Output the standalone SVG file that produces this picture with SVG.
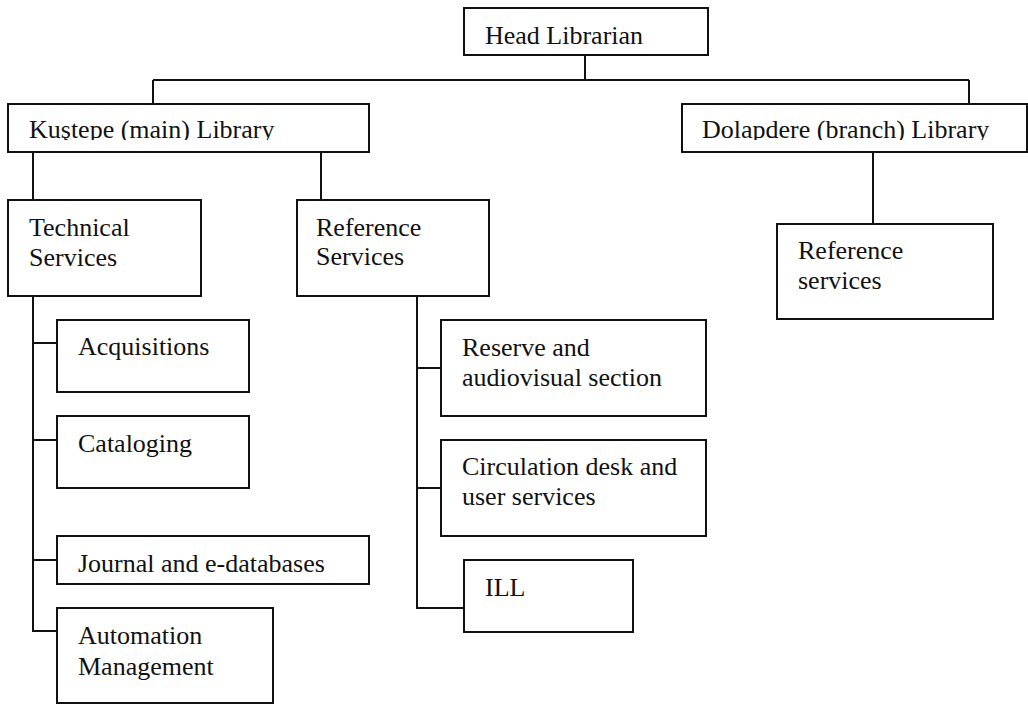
<svg xmlns="http://www.w3.org/2000/svg" width="1028" height="704" viewBox="0 0 1028 704">
<style>
.box{fill:#fff;stroke:#111;stroke-width:2}
.t{font-family:"Liberation Serif","Times New Roman",serif;font-size:26px;fill:#111}
.c{fill:none;stroke:#111;stroke-width:2}
</style>
<defs>
<clipPath id="clipK"><rect x="8" y="104" width="361" height="36"/></clipPath>
<clipPath id="clipD"><rect x="682" y="104" width="346" height="36"/></clipPath>
</defs>
<rect width="1028" height="704" fill="#fff"/>
<g id="connectors">
<path class="c" d="M585 55V80M153 80H969M153 80V104M969 80V104"/>
<path class="c" d="M33 152V200M321 152V200M873 152V224"/>
<path class="c" d="M33 296V631H57M33 343H57M33 440H57M33 560H57"/>
<path class="c" d="M417 296V608H464M417 368H441M417 488H441"/>
</g>
<g id="head"><rect class="box" x="464" y="8" width="244" height="47"/><text class="t" x="485" y="44">Head Librarian</text></g>
<g id="kustepe"><rect class="box" x="8" y="104" width="361" height="48"/><text class="t" x="29" y="138" clip-path="url(#clipK)">Kuştepe (main) Library</text></g>
<g id="dolapdere"><rect class="box" x="682" y="104" width="345" height="48"/><text class="t" x="702" y="138" clip-path="url(#clipD)">Dolapdere (branch) Library</text></g>
<g id="technical"><rect class="box" x="8" y="200" width="193" height="96"/><text class="t" x="29" y="236">Technical</text><text class="t" x="29" y="266">Services</text></g>
<g id="reference"><rect class="box" x="297" y="200" width="192" height="96"/><text class="t" x="316" y="236">Reference</text><text class="t" x="316" y="265">Services</text></g>
<g id="branch-reference"><rect class="box" x="777" y="224" width="216" height="95"/><text class="t" x="798" y="259">Reference</text><text class="t" x="798" y="289">services</text></g>
<g id="acquisitions"><rect class="box" x="57" y="320" width="192" height="72"/><text class="t" x="78" y="355">Acquisitions</text></g>
<g id="cataloging"><rect class="box" x="57" y="416" width="192" height="72"/><text class="t" x="78" y="452">Cataloging</text></g>
<g id="journal"><rect class="box" x="57" y="536" width="312" height="48"/><text class="t" x="78" y="572">Journal and e-databases</text></g>
<g id="automation"><rect class="box" x="57" y="608" width="216" height="95"/><text class="t" x="78" y="644">Automation</text><text class="t" x="78" y="675">Management</text></g>
<g id="reserve"><rect class="box" x="441" y="320" width="265" height="96"/><text class="t" x="462" y="356">Reserve and</text><text class="t" x="462" y="386">audiovisual section</text></g>
<g id="circulation"><rect class="box" x="441" y="440" width="265" height="96"/><text class="t" x="462" y="475">Circulation desk and</text><text class="t" x="462" y="505">user services</text></g>
<g id="ill"><rect class="box" x="464" y="560" width="169" height="72"/><text class="t" x="485" y="596">ILL</text></g>
</svg>
